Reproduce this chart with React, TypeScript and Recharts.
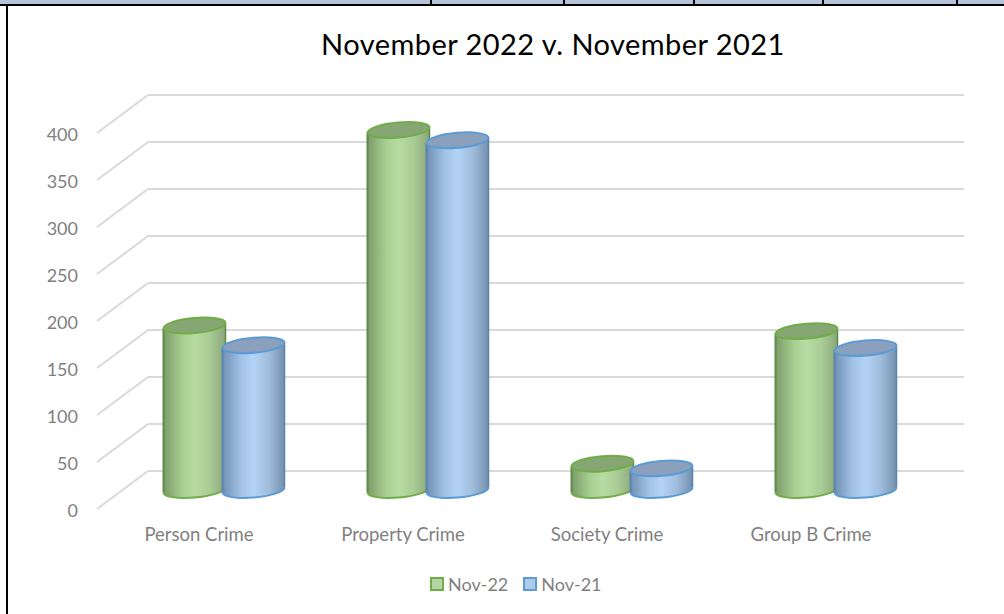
import React from "react";
import { Bar, BarChart, CartesianGrid, Legend, XAxis, YAxis } from "recharts";

const categories = ["Person Crime", "Property Crime", "Society Crime", "Group B Crime"];
const nov22 = [175, 383, 28, 169];
const nov21 = [154, 372, 23, 151];
const yTicks = [0, 50, 100, 150, 200, 250, 300, 350, 400];
const headerTicks = [430, 563, 693, 822, 956];

const data = categories.map((name, i) => ({ name, nov22: nov22[i], nov21: nov21[i] }));

const FONT = "Lato, 'Open Sans', sans-serif";
const LABEL = "#7f7f7f";
const GRID = "#d9d9d9";

// the 3D look: bars sit in front of the back wall
const DX = -26;
const DY = 19;

const YTick = ({ x, y, payload }: any) => (
  <g>
    <line x1={x} y1={y} x2={x - 51} y2={y + 38} stroke={GRID} strokeWidth={2} />
    <text x={x - 70} y={y + 39} textAnchor="end" dominantBaseline="central" fill={LABEL} fontSize={18} fontFamily={FONT}>
      {payload.value}
    </text>
  </g>
);

const XTick = ({ x, y, payload }: any) => (
  <text x={x - 51} y={y + 55} textAnchor="middle" dominantBaseline="central" fill={LABEL} fontSize={18.5} fontFamily={FONT}>
    {payload.value}
  </text>
);

const Cylinder = ({ x, y, width, height, id, edge, side, top }: any) => {
  const rx = (width + 3) / 2;
  const cx = x + width / 2 + DX;
  const topY = y + DY;
  const botY = y + height + DY;
  const ry = 7.5;
  const tilt = 2.5;
  const arc = `M${cx - rx},${botY + tilt} A${rx},${ry} -5 0 0 ${cx + rx},${botY - tilt}`;
  const body = `M${cx - rx},${topY + tilt} L${cx - rx},${botY + tilt} A${rx},${ry} -5 0 0 ${cx + rx},${botY - tilt} L${cx + rx},${topY - tilt} Z`;
  return (
    <g>
      <path d={body} fill={`url(#${id})`} />
      <path d={arc} fill="none" stroke={edge} strokeWidth={2} />
      <line x1={cx - rx} y1={topY + tilt} x2={cx - rx} y2={botY + tilt} stroke={side} strokeWidth={2} />
      <line x1={cx + rx} y1={topY - tilt} x2={cx + rx} y2={botY - tilt} stroke={side} strokeWidth={1.5} />
      <ellipse cx={cx} cy={topY} rx={rx} ry={ry} transform={`rotate(-5 ${cx} ${topY})`} fill={top} stroke={edge} strokeWidth={2} />
    </g>
  );
};

const legendColors: any = {
  "Nov-22": ["#b5d6a2", "#70ad47"],
  "Nov-21": ["#aecbeb", "#5b9bd5"],
};

const LegendContent = ({ payload }: any) => (
  <div style={{ display: "flex", fontFamily: FONT, fontSize: 18, color: LABEL, lineHeight: "20px" }}>
    {payload.map((p: any) => (
      <div key={p.value} style={{ display: "flex", alignItems: "center", marginRight: 15 }}>
        <span
          style={{
            width: 10,
            height: 10,
            marginRight: 4,
            background: legendColors[p.value][0],
            border: `2px solid ${legendColors[p.value][1]}`,
          }}
        />
        {p.value}
      </div>
    ))}
  </div>
);

export default function App() {
  return (
    <div style={{ position: "absolute", left: 0, top: 0, width: 1004, height: 614, background: "#fff", overflow: "hidden" }}>
      <div style={{ position: "absolute", left: 0, top: 0, width: 1004, height: 4, background: "#b4c3d8" }} />
      <div style={{ position: "absolute", left: 0, top: 4, width: 1004, height: 2, background: "#000" }} />
      <div style={{ position: "absolute", left: 6, top: 4, width: 2, height: 610, background: "#000" }} />
      {headerTicks.map((x) => (
        <div key={x} style={{ position: "absolute", left: x, top: 0, width: 2, height: 5, background: "#000" }} />
      ))}
      <div style={{ position: "absolute", left: 0, top: 26, width: 1106, textAlign: "center", fontFamily: FONT, fontSize: 29, letterSpacing: 0.45, lineHeight: "36px", color: "#000" }}>
        November 2022 v. November 2021
      </div>
      <BarChart
        width={1004}
        height={614}
        data={data}
        margin={{ top: 95, right: 40, bottom: 0, left: 0 }}
        barSize={59}
        barGap={0}
        style={{ position: "absolute", left: 0, top: 0 }}
      >
        <defs>
          <linearGradient id="green" x1="0" y1="0" x2="1" y2="0">
            <stop offset="0%" stopColor="#7c9a69" />
            <stop offset="30%" stopColor="#a8cf92" />
            <stop offset="50%" stopColor="#b7dca3" />
            <stop offset="75%" stopColor="#a9cb95" />
            <stop offset="100%" stopColor="#8aa67a" />
          </linearGradient>
          <linearGradient id="blue" x1="0" y1="0" x2="1" y2="0">
            <stop offset="0%" stopColor="#6f8fb3" />
            <stop offset="30%" stopColor="#a3c3e6" />
            <stop offset="50%" stopColor="#b3d2f5" />
            <stop offset="75%" stopColor="#a0bcdc" />
            <stop offset="100%" stopColor="#7490ae" />
          </linearGradient>
        </defs>
        <CartesianGrid vertical={false} stroke={GRID} strokeWidth={2} />
        <XAxis dataKey="name" height={143} axisLine={false} tickLine={false} tick={<XTick />} interval={0} />
        <YAxis width={148} domain={[0, 400]} ticks={yTicks} axisLine={false} tickLine={false} tickSize={0} tickMargin={0} tick={<YTick />} />
        <Legend
          verticalAlign="middle"
          align="center"
          itemSorter={null}
          content={<LegendContent />}
          wrapperStyle={{ position: "absolute", left: 430, top: 574, width: 220, height: 20 }}
        />
        <Bar dataKey="nov22" name="Nov-22" fill="#b5d6a2" isAnimationActive={false} shape={(p: any) => <Cylinder {...p} id="green" edge="#70ad47" side="#5f8a48" top="#86a673" />} />
        <Bar dataKey="nov21" name="Nov-21" fill="#aecbeb" isAnimationActive={false} shape={(p: any) => <Cylinder {...p} id="blue" edge="#5b9bd5" side="#5a83ad" top="#8aa0bd" />} />
      </BarChart>
    </div>
  );
}
